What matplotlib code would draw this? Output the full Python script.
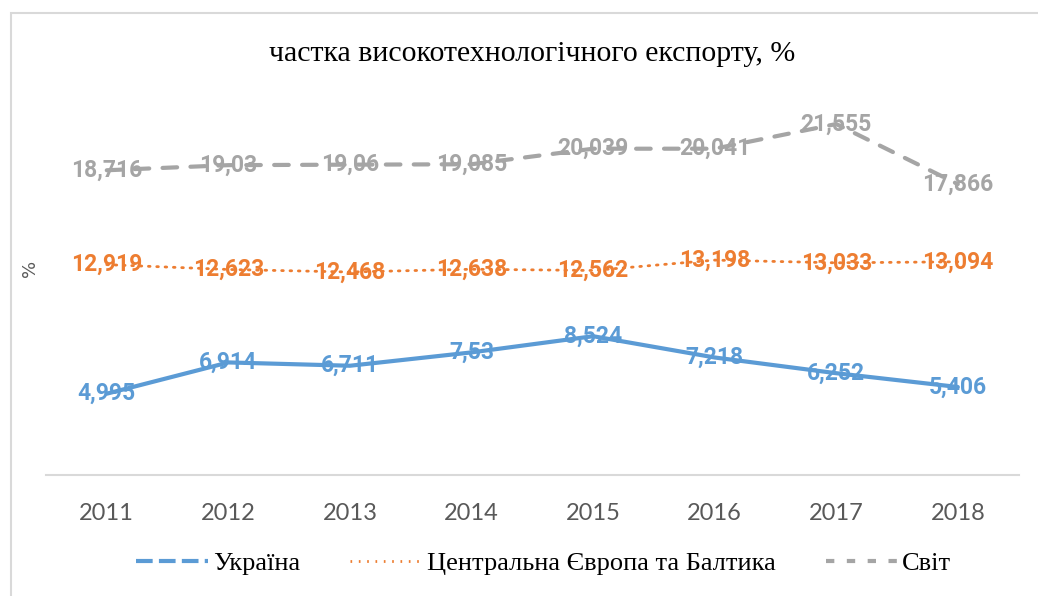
import matplotlib.pyplot as plt
from matplotlib.lines import Line2D
from matplotlib.patches import Rectangle

years = ["2011", "2012", "2013", "2014", "2015", "2016", "2017", "2018"]
ukraine = [4.995, 6.914, 6.711, 7.53, 8.524, 7.218, 6.252, 5.406]
cee_baltic = [12.919, 12.623, 12.468, 12.638, 12.562, 13.198, 13.033, 13.094]
world = [18.716, 19.03, 19.06, 19.085, 20.039, 20.041, 21.555, 17.866]

blue = "#5B9BD5"
orange = "#ED7D31"
grey = "#A5A5A5"
serif = "Liberation Serif"
label_font = "Roboto"

fig = plt.figure(figsize=(10.38, 5.96), dpi=100)
ax = fig.add_axes([0.0443, 0.203, 0.937, 0.683])

x = list(range(len(years)))

ax.plot(x, ukraine, color=blue, lw=3.0, solid_capstyle="round")
ax.plot(x, cee_baltic, color=orange, lw=2.0, linestyle=(0, (0.6, 2.4)),
        dash_capstyle="round")
ax.plot(x, world, color=grey, lw=3.0, linestyle=(0, (3.5, 3.2)),
        dash_capstyle="round")

def fmt(v):
    return f"{v:g}".replace(".", ",")

for series, col in [(ukraine, blue), (cee_baltic, orange), (world, grey)]:
    for xi, v in zip(x, series):
        ax.text(xi, v, fmt(v), color=col, fontsize=16.5, fontweight="bold",
                family=label_font, ha="center", va="center")

ax.set_xlim(-0.5, len(years) - 0.5)
ax.set_ylim(0, 25)
ax.set_xticks(x)
ax.set_xticklabels(years, fontsize=17, color="#595959", family="Lato")
ax.tick_params(axis="x", length=0, pad=20)
ax.set_yticks([])
for s in ["top", "left", "right"]:
    ax.spines[s].set_visible(False)
ax.spines["bottom"].set_color("#D9D9D9")
ax.spines["bottom"].set_linewidth(1.5)

fig.text(0.0289, 0.55, "%", rotation=90, fontsize=13, color="#595959",
         ha="center", va="center")
fig.text(0.513, 0.909, "частка високотехнологічного експорту, %", family=serif,
         fontsize=21.5, ha="center", va="center")

# chart area border
fig.patches.append(Rectangle((11 / 1038, -0.1), 1.2, 1 - 13 / 596 + 0.1,
                             transform=fig.transFigure, fill=False,
                             edgecolor="#D9D9D9", lw=1.5, clip_on=False))

handles = [
    Line2D([], [], color=blue, lw=3.0, linestyle=(0, (4, 1.5))),
    Line2D([], [], color=orange, lw=2.0, linestyle=(0, (0.6, 2.4))),
    Line2D([], [], color=grey, lw=3.0, linestyle=(0, (2, 3))),
]
fig.legend(handles, ["Україна", "Центральна Європа та Балтика", "Світ"],
           loc="center", bbox_to_anchor=(0.524, 0.055), ncol=3, frameon=False,
           prop={"family": serif, "size": 19}, handlelength=2.7,
           columnspacing=1.9, handletextpad=0.2)

fig.savefig("out.png", dpi=100)
